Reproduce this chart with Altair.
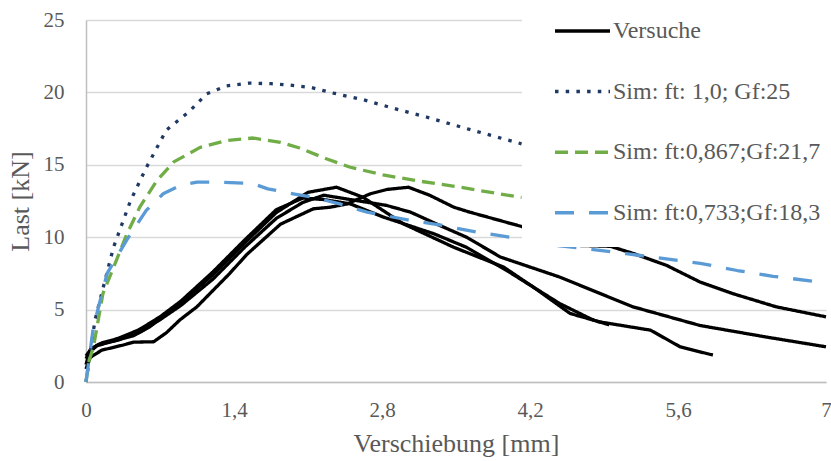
import altair as alt
import pandas as pd

# ---- data ----
SERIES = ["Versuche", "Sim: ft: 1,0; Gf:25", "Sim: ft:0,867;Gf:21,7", "Sim: ft:0,733;Gf:18,3"]
COLORS = ["#000000", "#203864", "#70ad47", "#5b9bd5"]
DASHES = [[1, 0], [3.5, 7.2], [13, 7], [19, 15]]

sim1_x = [0, 0.085, 0.164, 0.26, 0.42, 0.57, 0.76, 0.98, 1.14, 1.33, 1.54, 1.75, 1.93, 2.13, 2.34, 2.62, 2.91, 3.22, 3.6, 4.07, 4.12]
sim1_y = [0, 4.27, 6.56, 9.3, 12.5, 14.8, 17.4, 18.7, 19.9, 20.45, 20.64, 20.6, 20.5, 20.34, 19.95, 19.5, 18.9, 18.3, 17.5, 16.55, 16.45]

sim2_x = [0, 0.03, 0.07, 0.16, 0.26, 0.385, 0.51, 0.67, 0.83, 1.08, 1.33, 1.58, 1.84, 2.02, 2.28, 2.5, 2.81, 3.13, 3.54, 4.07, 4.12]
sim2_y = [0, 1.5, 2.4, 6.1, 7.9, 10.2, 12.1, 13.9, 15.2, 16.2, 16.67, 16.85, 16.55, 16.16, 15.4, 14.83, 14.3, 13.9, 13.45, 12.8, 12.75]

sim3_x = [0, 0.07, 0.2, 0.385, 0.57, 0.73, 0.89, 1.05, 1.27, 1.58, 1.72, 1.96, 2.15, 2.4, 2.66, 3.07, 3.38, 3.7, 4.1, 4.45, 4.74, 5.11, 5.49, 5.81, 6.16, 6.5, 7.0]
sim3_y = [0, 3.8, 7.5, 9.8, 11.85, 13.0, 13.57, 13.8, 13.8, 13.7, 13.34, 13.0, 12.76, 12.3, 11.73, 11.16, 10.8, 10.35, 9.9, 9.43, 9.2, 8.86, 8.5, 8.2, 7.7, 7.3, 6.85]

testA_x = [0, 0.03, 0.1, 0.25, 0.45, 0.6, 0.9, 1.2, 1.5, 1.8, 2.1, 2.37, 2.62, 3.0, 3.48, 3.95, 4.23, 4.58, 4.86, 5.34, 5.62, 5.93]
testA_y = [1.2, 2.0, 2.5, 2.8, 3.2, 3.8, 5.5, 7.4, 9.6, 11.7, 13.1, 13.45, 12.76, 10.93, 9.3, 7.94, 6.56, 4.73, 4.15, 3.58, 2.43, 1.86]

testB_x = [0, 0.04, 0.12, 0.3, 0.5, 0.7, 0.9, 1.2, 1.5, 1.8, 2.05, 2.25, 2.5, 2.84, 3.07, 3.35, 3.6, 3.92, 4.48, 5.17, 5.81, 6.44, 7.0]
testB_y = [1.6, 2.2, 2.6, 2.9, 3.4, 4.3, 5.3, 7.1, 9.3, 11.3, 12.4, 12.9, 12.6, 12.2, 11.73, 10.8, 10.0, 8.63, 7.25, 5.2, 3.9, 3.1, 2.43]

testC_x = [0, 0.04, 0.15, 0.35, 0.45, 0.64, 0.76, 0.89, 1.05, 1.36, 1.52, 1.84, 2.15, 2.31, 2.47, 2.69, 2.85, 3.05, 3.25, 3.48, 3.63, 4.14, 4.67, 4.96, 5.18, 5.49, 5.81, 6.12, 6.53, 7.0]
testC_y = [0.9, 1.7, 2.2, 2.55, 2.75, 2.78, 3.4, 4.3, 5.2, 7.5, 8.8, 10.9, 11.96, 12.07, 12.3, 13.0, 13.3, 13.45, 12.9, 12.07, 11.73, 10.7, 9.43, 9.37, 8.87, 8.06, 6.9, 6.1, 5.19, 4.5]

testD_x = [0, 0.05, 0.15, 0.3, 0.5, 0.7, 0.9, 1.2, 1.5, 1.8, 2.05, 2.25, 2.5, 2.81, 3.29, 3.6, 3.98, 4.48, 4.8, 4.95]
testD_y = [1.8, 2.3, 2.7, 3.0, 3.6, 4.5, 5.6, 7.6, 9.8, 11.9, 12.7, 12.6, 12.3, 11.4, 10.24, 9.3, 7.7, 5.42, 4.27, 3.95]

X_TICKS = [0, 1.4, 2.8, 4.2, 5.6, 7]
Y_TICKS = [0, 5, 10, 15, 20, 25]

# ---- build table ----
rows = []
runs = [
    (SERIES[0], "A", testA_x, testA_y),
    (SERIES[0], "B", testB_x, testB_y),
    (SERIES[0], "C", testC_x, testC_y),
    (SERIES[0], "D", testD_x, testD_y),
    (SERIES[1], "S1", sim1_x, sim1_y),
    (SERIES[2], "S2", sim2_x, sim2_y),
    (SERIES[3], "S3", sim3_x, sim3_y),
]
for s, r, xs, ys in runs:
    for i, (xv, yv) in enumerate(zip(xs, ys)):
        rows.append({"series": s, "run": r, "x": xv, "y": yv, "i": i})
df = pd.DataFrame(rows)

FONT = "Liberation Serif"
GREY = "#595959"

legend_opts = dict(orient="none", legendX=467, legendY=-18.5,
                   title=None, symbolType="stroke",
                   symbolSize=3025, symbolStrokeWidth=3.5,
                   labelFont=FONT, labelFontSize=24,
                   labelColor=GREY, labelOffset=1,
                   rowPadding=18.6, labelLimit=400)

lines = alt.Chart(df).mark_line(strokeWidth=3.3, strokeJoin="round").encode(
    x=alt.X("x:Q", scale=alt.Scale(domain=[0, 7], nice=False),
            axis=alt.Axis(values=X_TICKS, format=".1~f",
                          labelExpr="replace(datum.label, '.', ',')",
                          title="Verschiebung [mm]", grid=False, ticks=False,
                          labelFlush=False,
                          domainColor="#bfbfbf", domainWidth=1.5,
                          labelPadding=17, titlePadding=10)),
    y=alt.Y("y:Q", scale=alt.Scale(domain=[0, 25], nice=False),
            axis=alt.Axis(values=Y_TICKS, title="Last [kN]", ticks=False,
                          gridColor="#d9d9d9", gridWidth=1.3,
                          domainColor="#bfbfbf", domainWidth=1.5,
                          labelPadding=22, titlePadding=10)),
    color=alt.Color("series:N", scale=alt.Scale(domain=SERIES, range=COLORS),
                    legend=alt.Legend(**legend_opts)),
    strokeDash=alt.StrokeDash("series:N", scale=alt.Scale(domain=SERIES, range=DASHES),
                              legend=alt.Legend(**legend_opts)),
    detail="run:N",
    order="i:Q",
)

# white legend box hiding the plot behind the legend
mask = alt.Chart(pd.DataFrame({"k": [0]})).mark_rect(color="white").encode(
    x=alt.value(436), x2=alt.value(745), y=alt.value(-20), y2=alt.value(227)
)

chart = alt.layer(lines, mask).properties(
    width=740, height=362,
    padding={"left": 86, "top": 20, "right": 5, "bottom": 79},
    autosize=alt.AutoSizeParams(type="none"),
).configure_view(stroke=None).configure_axis(
    labelFont=FONT, labelFontSize=21, labelColor=GREY,
    titleFont=FONT, titleFontSize=26, titleColor=GREY, titleFontWeight="normal",
)

chart.save("out.html", embed_options={"renderer": "svg", "actions": False})
